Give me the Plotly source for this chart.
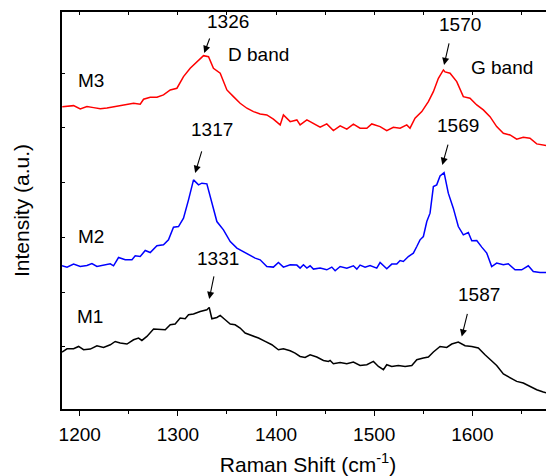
import plotly.graph_objects as go

# ---------------- data ----------------
m3_x = [1182.2, 1187.0, 1193.7, 1200.5, 1207.3, 1214.1, 1220.9, 1227.7, 1234.4, 1241.2,
        1248.1, 1254.8, 1261.6, 1265.0, 1271.8, 1278.6, 1285.3, 1292.2, 1299.0, 1305.7,
        1312.5, 1319.3, 1326.1, 1331.2, 1336.2, 1343.1, 1349.9, 1356.6, 1363.4, 1370.3,
        1377.0, 1383.8, 1390.6, 1397.3, 1404.2, 1407.5, 1414.4, 1421.2, 1424.5, 1431.4,
        1438.1, 1444.9, 1451.7, 1458.4, 1465.3, 1472.1, 1478.8, 1485.6, 1492.5, 1497.5,
        1506.0, 1512.8, 1519.5, 1526.4, 1533.2, 1536.5, 1541.6, 1548.5, 1555.2, 1560.3,
        1565.4, 1570.5, 1572.2, 1577.3, 1584.1, 1590.8, 1597.6, 1604.5, 1611.2, 1618.0,
        1624.8, 1631.6, 1638.4, 1645.2, 1651.9, 1658.7, 1665.6, 1672.3, 1679.1, 1682.5]
m3_y = [301.3, 302.0, 302.3, 299.0, 301.3, 300.3, 299.3, 300.0, 301.3, 302.7,
        303.3, 304.7, 303.7, 308.7, 310.7, 310.7, 313.0, 318.0, 319.7, 331.3,
        339.7, 346.3, 352.3, 351.3, 339.7, 334.7, 318.0, 311.3, 304.7, 299.7,
        296.3, 294.0, 293.0, 288.7, 283.0, 293.0, 286.3, 288.0, 283.0, 288.0,
        284.7, 280.7, 284.0, 277.3, 282.0, 278.7, 283.7, 279.7, 279.7, 284.0,
        281.3, 277.3, 280.7, 279.7, 283.0, 279.7, 289.7, 296.3, 306.3, 316.3,
        329.7, 338.0, 336.0, 334.7, 326.3, 311.3, 309.7, 303.0, 298.0, 291.3,
        281.3, 274.7, 273.0, 268.7, 270.7, 269.7, 264.0, 263.0, 262.0, 261.3]

m2_x = [1181.9, 1187.0, 1193.7, 1200.5, 1207.3, 1212.4, 1217.5, 1224.2, 1231.1, 1234.4,
        1239.5, 1246.3, 1253.2, 1256.5, 1261.6, 1266.7, 1271.8, 1278.6, 1285.3, 1290.4,
        1295.5, 1300.6, 1305.7, 1310.8, 1315.9, 1321.0, 1324.4, 1329.5, 1334.6, 1339.7,
        1346.4, 1353.3, 1360.1, 1366.8, 1373.6, 1378.7, 1383.8, 1390.6, 1397.3, 1402.4,
        1407.5, 1414.4, 1421.2, 1424.5, 1427.9, 1431.4, 1434.7, 1438.1, 1444.9, 1451.7,
        1456.8, 1460.2, 1465.3, 1472.1, 1478.8, 1482.3, 1485.6, 1490.7, 1495.8, 1502.6,
        1506.0, 1512.8, 1517.9, 1523.0, 1526.4, 1529.7, 1534.8, 1539.9, 1543.4, 1546.7,
        1550.1, 1553.6, 1556.9, 1560.3, 1563.7, 1567.1, 1571.2, 1575.5, 1580.6, 1585.7,
        1590.8, 1595.9, 1599.4, 1604.5, 1609.6, 1614.7, 1619.7, 1624.8, 1631.6, 1636.6,
        1643.5, 1650.3, 1657.0, 1662.1, 1668.9, 1675.7, 1680.8]
m2_y = [142.0, 140.7, 143.7, 141.3, 142.3, 144.3, 141.3, 143.0, 144.0, 142.0,
        150.3, 148.0, 148.0, 152.0, 151.3, 157.3, 155.3, 162.0, 163.0, 168.0,
        180.7, 181.3, 189.7, 208.0, 228.0, 223.0, 224.7, 224.0, 204.7, 186.3,
        178.0, 166.3, 159.7, 156.3, 153.0, 149.7, 148.0, 141.3, 140.7, 145.3,
        140.7, 143.0, 142.7, 139.7, 143.0, 139.7, 142.0, 138.7, 139.7, 138.0,
        140.7, 137.0, 141.3, 139.7, 142.0, 138.7, 142.7, 140.7, 142.3, 139.7,
        145.3, 139.0, 143.7, 143.7, 147.3, 146.3, 151.3, 154.7, 161.3, 168.0,
        171.3, 186.3, 194.7, 221.3, 223.0, 232.0, 235.3, 214.7, 199.7, 181.3,
        173.0, 175.3, 167.0, 167.3, 160.7, 154.7, 141.3, 144.7, 143.0, 144.0,
        138.0, 138.0, 142.0, 136.3, 135.3, 135.3, 134.0]

m1_x = [1181.9, 1187.0, 1193.7, 1198.8, 1203.9, 1210.7, 1217.5, 1224.2, 1231.1, 1236.1,
        1241.2, 1248.1, 1254.8, 1259.9, 1263.3, 1268.4, 1275.2, 1282.0, 1287.1, 1292.2,
        1297.2, 1302.3, 1307.4, 1310.8, 1315.9, 1322.7, 1329.5, 1331.9, 1334.6, 1339.7,
        1343.1, 1348.2, 1353.3, 1358.3, 1363.4, 1368.5, 1375.4, 1382.1, 1388.9, 1395.7,
        1402.4, 1407.5, 1414.4, 1419.4, 1424.5, 1429.6, 1434.7, 1441.5, 1448.3, 1453.4,
        1455.1, 1458.4, 1465.3, 1472.1, 1478.8, 1485.6, 1492.5, 1499.2, 1504.3, 1509.4,
        1512.8, 1517.9, 1524.6, 1531.5, 1538.3, 1543.4, 1550.1, 1555.2, 1560.3, 1567.1,
        1573.9, 1579.0, 1585.7, 1592.6, 1599.4, 1606.1, 1612.9, 1619.7, 1624.8, 1631.6,
        1638.4, 1645.2, 1651.9, 1658.7, 1665.6, 1672.3, 1679.1]
m1_y = [55.7, 59.0, 59.0, 61.3, 58.0, 58.7, 62.0, 60.3, 63.0, 66.3,
        64.7, 63.7, 68.0, 69.7, 67.3, 71.3, 78.7, 78.0, 78.0, 83.0,
        83.7, 89.7, 89.0, 93.0, 93.7, 96.3, 98.0, 100.3, 89.0, 90.3,
        92.3, 88.0, 83.7, 83.0, 79.7, 74.7, 72.3, 69.7, 66.3, 63.0,
        58.0, 59.0, 57.0, 54.7, 51.3, 50.3, 53.0, 50.7, 47.3, 46.3,
        47.3, 44.0, 45.3, 44.0, 45.7, 42.3, 43.0, 46.3, 41.3, 38.0,
        43.0, 41.3, 42.3, 41.3, 42.3, 48.0, 49.7, 50.7, 55.7, 61.3,
        60.3, 63.7, 65.7, 62.0, 61.3, 59.7, 53.0, 46.3, 42.3, 33.7,
        29.7, 26.3, 24.7, 21.3, 18.0, 15.7, 13.7]

x_ticks = [1200, 1300, 1400, 1500, 1600]
x_range = [1181.9, 1683.2]
y_range = [-1.3, 396.0]

# labels: (text, x, y)
texts = [("1326", 1350.7, 386.3), ("D band", 1382.1, 353.0),
         ("1570", 1587.5, 383.0), ("G band", 1630.7, 340.0),
         ("M3", 1211.7, 327.0),
         ("1317", 1334.9, 278.0), ("1569", 1584.9, 282.0),
         ("M2", 1211.7, 171.0),
         ("1331", 1341.3, 149.7), ("1587", 1607.1, 113.0),
         ("M1", 1210.7, 91.0)]
# arrows: (head x, head y, tail x, tail y)
arrows = [(1326.8, 355.0, 1332.9, 371.0),
          (1571.2, 343.0, 1576.6, 366.0),
          (1317.6, 235.0, 1324.7, 258.0),
          (1569.4, 243.0, 1575.6, 264.7),
          (1331.9, 108.7, 1337.0, 133.0),
          (1589.2, 71.3, 1595.3, 95.3)]

FONT = "Liberation Sans, Arial, sans-serif"

fig = go.Figure()
for xs, ys, col in [(m1_x, m1_y, "#000000"), (m2_x, m2_y, "#0000ff"), (m3_x, m3_y, "#ff0000")]:
    fig.add_trace(go.Scatter(x=xs, y=ys, mode="lines", line=dict(color=col, width=1.5),
                             showlegend=False, hoverinfo="skip"))
# dummy trace so the top axis is drawn
fig.add_trace(go.Scatter(x=[x_range[0]], y=[None], xaxis="x2", mode="lines",
                         showlegend=False, hoverinfo="skip"))

annotations = []
for t, x, y in texts:
    annotations.append(dict(text=t, x=x, y=y, xref="x", yref="y", showarrow=False,
                            font=dict(family=FONT, size=19, color="#000000")))
for hx, hy, tx, ty in arrows:
    annotations.append(dict(text="", x=hx, y=hy, ax=tx, ay=ty, xref="x", yref="y",
                            axref="x", ayref="y", showarrow=True, arrowhead=2,
                            arrowsize=1.3, arrowwidth=1.1, arrowcolor="#000000",
                            standoff=0, startstandoff=0))

# the page body adds an 8 px offset, so the figure is 8 px smaller than the window
fig.update_layout(
    width=546, height=468,
    margin=dict(l=54, r=0, t=4, b=67, autoexpand=False),
    paper_bgcolor="white", plot_bgcolor="white",
    font=dict(family=FONT, color="#000000"),
    xaxis=dict(range=x_range, tickvals=x_ticks, ticks="outside", ticklen=5, tickwidth=1.2,
               tickcolor="#000000", showline=True, linecolor="#000000", linewidth=1.5,
               showgrid=False, zeroline=False, automargin=False, ticklabelstandoff=2,
               minor=dict(dtick=50, tick0=1200, ticks="outside", ticklen=3, tickwidth=1.2,
                          tickcolor="#000000", showgrid=False),
               tickfont=dict(family=FONT, size=19, color="#000000"),
               title=dict(text="Raman Shift (cm<sup>-1</sup>)",
                          font=dict(family=FONT, size=21, color="#000000"), standoff=23)),
    xaxis2=dict(range=x_range, overlaying="x", side="top", anchor="y", showline=True,
                linecolor="#000000", linewidth=1.5, ticks="inside", ticklen=3, tickwidth=1.2,
                tickcolor="#000000", tick0=1200, dtick=50, showticklabels=False,
                showgrid=False, zeroline=False, automargin=False),
    yaxis=dict(range=y_range, showline=True, linecolor="#000000", linewidth=1.5,
               ticks="inside", ticklen=3, tickwidth=1.2, tickcolor="#000000",
               tickvals=[61, 115, 170, 225, 280, 334], showticklabels=False,
               showgrid=False, zeroline=False, automargin=False,
               title=dict(text="Intensity (a.u.)",
                          font=dict(family=FONT, size=21, color="#000000"), standoff=25)),
    annotations=annotations,
)

fig.write_html("out.html")
